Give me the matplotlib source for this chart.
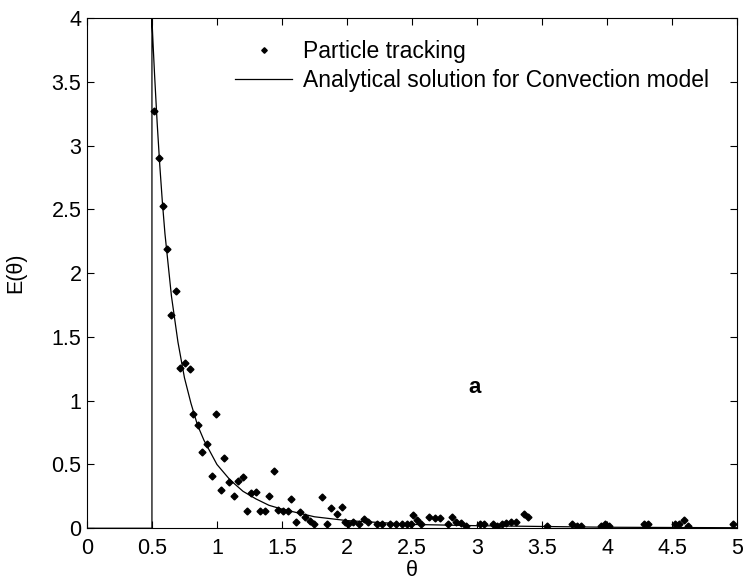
import matplotlib
matplotlib.use("Agg")
import matplotlib.pyplot as plt

plt.rcParams["font.family"] = ["Liberation Sans", "DejaVu Sans"]

# particle tracking points (theta, E)
pt_theta = [0.515, 0.554, 0.582, 0.615, 0.646, 0.685, 0.715, 0.751, 0.79,
            0.818, 0.857, 0.885, 0.92, 0.96, 0.99, 1.03, 1.056, 1.095, 1.133,
            1.164, 1.2, 1.233, 1.264, 1.297, 1.333, 1.37, 1.40, 1.44, 1.47,
            1.51, 1.55, 1.57, 1.61, 1.64, 1.68, 1.715, 1.75, 1.81, 1.85, 1.88,
            1.92, 1.96, 1.985, 2.01, 2.05, 2.09, 2.13, 2.16, 2.23, 2.27, 2.33,
            2.38, 2.42, 2.46, 2.49, 2.505, 2.535, 2.567, 2.633, 2.677, 2.715,
            2.78, 2.81, 2.84, 2.877, 2.915, 3.02, 3.05, 3.125, 3.15, 3.19,
            3.22, 3.26, 3.30, 3.36, 3.39, 3.54, 3.73, 3.77, 3.80, 3.95, 3.985,
            4.015, 4.287, 4.318, 4.523, 4.556, 4.595, 4.625, 4.97]
pt_E = [3.27, 2.90, 2.525, 2.19, 1.67, 1.86, 1.257, 1.296, 1.245,
        0.894, 0.81, 0.60, 0.66, 0.41, 0.894, 0.30, 0.55, 0.36, 0.25,
        0.37, 0.40, 0.133, 0.28, 0.285, 0.133, 0.133, 0.25, 0.447, 0.14,
        0.133, 0.133, 0.23, 0.05, 0.128, 0.09, 0.057, 0.03, 0.245, 0.03, 0.155,
        0.115, 0.167, 0.05, 0.03, 0.05, 0.03, 0.07, 0.05, 0.03, 0.03, 0.03,
        0.03, 0.03, 0.03, 0.03, 0.107, 0.068, 0.03, 0.089, 0.081, 0.081,
        0.03, 0.089, 0.05, 0.04, 0.018, 0.03, 0.03, 0.03, 0.018, 0.03,
        0.04, 0.05, 0.05, 0.115, 0.089, 0.018, 0.03, 0.018, 0.018, 0.018, 0.03,
        0.018, 0.03, 0.03, 0.03, 0.03, 0.068, 0.018, 0.037]

# analytical curve
an_theta = [0.0, 0.5, 0.5, 0.505, 0.51, 0.52, 0.54, 0.56, 0.58, 0.6, 0.65, 0.7,
            0.75, 0.8, 0.85, 0.9, 1.0, 1.1, 1.2, 1.3, 1.4, 1.5, 1.75, 2.0,
            2.5, 3.0, 4.0, 5.0]
an_E = [0.0, 0.0, 4.0, 3.88, 3.77, 3.56, 3.18, 2.85, 2.56, 2.31, 1.82, 1.46,
        1.18, 0.98, 0.81, 0.69, 0.50, 0.38, 0.29, 0.23, 0.18, 0.15, 0.09, 0.06,
        0.03, 0.02, 0.008, 0.004]

xticks = [0, 0.5, 1, 1.5, 2, 2.5, 3, 3.5, 4, 4.5, 5]
yticks = [0, 0.5, 1, 1.5, 2, 2.5, 3, 3.5, 4]

fig = plt.figure(figsize=(7.43, 5.85), dpi=100)
ax = fig.add_axes([0.117, 0.097, 0.875, 0.872])

ax.plot(pt_theta, pt_E, "D", color="black", markersize=3.5, label="Particle tracking")
ax.plot(an_theta, an_E, "-", color="black", linewidth=0.9,
        label="Analytical solution for Convection model")

ax.set_xlim(0, 5)
ax.set_ylim(0, 4)
ax.set_xticks(xticks)
ax.set_xticklabels([f"{t:g}" for t in xticks])
ax.set_yticks(yticks)
ax.set_yticklabels([f"{t:g}" for t in yticks])
ax.tick_params(direction="in", top=True, right=True, length=5, labelsize=15.5)
ax.tick_params(axis="x", pad=7)
ax.tick_params(axis="y", pad=4)
for s in ax.spines.values():
    s.set_linewidth(0.8)

ax.set_xlabel("θ", fontsize=15.5, labelpad=1)
ax.set_ylabel("E(θ)", fontsize=15.5, labelpad=18)

ax.text(2.98, 1.1, "a", fontsize=16, fontweight="bold", ha="center", va="center")

ax.legend(loc="upper left", bbox_to_anchor=(0.228, 0.958), frameon=False,
          fontsize=16.5, handlelength=2.5, handletextpad=0.45, borderaxespad=0,
          borderpad=0, labelspacing=0.3, markerscale=0.8)

fig.savefig("out.png", dpi=100)
